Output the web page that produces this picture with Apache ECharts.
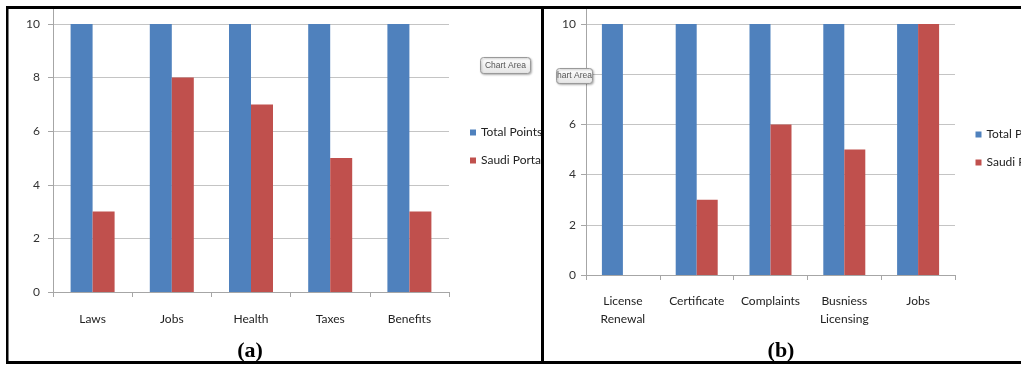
<!DOCTYPE html>
<html>
<head>
<meta charset="utf-8">
<script src="https://cdn.jsdelivr.net/npm/echarts@6/dist/echarts.min.js"></script>
<style>
  html, body { margin: 0; padding: 0; background: #ffffff; }
  #chart { width: 1021px; height: 365px; }
</style>
</head>
<body>
<div id="chart"></div>
<script>
// Series names shared by both panels
const seriesNames = ['Total Points', 'Saudi Portal'];

// Panel (a)
const categoriesA = ['Laws', 'Jobs', 'Health', 'Taxes', 'Benefits'];
const totalPointsA = [10, 10, 10, 10, 10];
const saudiPortalA = [3, 8, 7, 5, 3];

// Panel (b)
const categoriesB = ['License\nRenewal', 'Certificate', 'Complaints', 'Busniess\nLicensing', 'Jobs'];
const totalPointsB = [10, 10, 10, 10, 10];
const saudiPortalB = [0, 3, 6, 5, 10];

// Value axis range
const yMin = 0;
const yMax = 10;
const yStep = 2;

const BLUE = '#4F81BD';
const RED = '#C0504D';
const AXIS_GRAY = '#a6a6a6';
const GRID_GRAY = '#c4c4c4';
const LABEL_FONT = 'Lato, "Open Sans", sans-serif';

const chart = echarts.init(document.getElementById('chart'), null, { renderer: 'canvas' });

function valueAxis(gridIndex, margin) {
  return {
    type: 'value', gridIndex: gridIndex,
    min: yMin, max: yMax, interval: yStep,
    axisLine: { show: true, lineStyle: { color: AXIS_GRAY, width: 1 } },
    axisTick: { show: true, length: 5, lineStyle: { color: AXIS_GRAY } },
    splitLine: { show: true, lineStyle: { color: GRID_GRAY, width: 1 } },
    axisLabel: { margin: margin, fontSize: 12, color: '#333', fontFamily: LABEL_FONT }
  };
}

function categoryAxis(gridIndex, data, margin) {
  return {
    type: 'category', gridIndex: gridIndex, data: data,
    axisLine: { show: true, lineStyle: { color: AXIS_GRAY, width: 1 } },
    axisTick: { show: true, length: 5, lineStyle: { color: AXIS_GRAY } },
    axisLabel: { margin: margin, fontSize: 12, lineHeight: 18, color: '#222', fontFamily: LABEL_FONT, interval: 0 }
  };
}

function legendAt(left, top) {
  return {
    orient: 'vertical', left: left, top: top, padding: 0,
    icon: 'rect', itemWidth: 6, itemHeight: 6, itemGap: 14,
    selectedMode: false,
    data: seriesNames,
    textStyle: { fontSize: 12, lineHeight: 14, color: '#222', fontFamily: LABEL_FONT }
  };
}

function hoverTag(x, y, w, h, label) {
  return {
    type: 'group', x: x, y: y, z: 300,
    children: [
      {
        type: 'rect', z: 300,
        shape: { x: 0, y: 0, width: w, height: h, r: 3 },
        style: {
          fill: new echarts.graphic.LinearGradient(0, 0, 0, 1, [
            { offset: 0, color: '#ffffff' },
            { offset: 1, color: '#e4e4e4' }
          ]),
          stroke: '#9a9a9a', lineWidth: 1,
          shadowBlur: 2, shadowOffsetX: 1, shadowOffsetY: 1, shadowColor: 'rgba(0,0,0,0.25)'
        }
      },
      {
        type: 'text', z: 301,
        x: w / 2, y: h / 2,
        style: {
          text: label, fill: '#555', fontSize: 8.5, fontFamily: '"Liberation Sans", Arial, sans-serif',
          align: 'center', verticalAlign: 'middle'
        }
      }
    ]
  };
}

const option = {
  backgroundColor: '#ffffff',
  animation: false,
  grid: [
    { left: 53, top: 24, width: 396, height: 268 },
    { left: 586, top: 24, width: 369, height: 251 }
  ],
  xAxis: [
    categoryAxis(0, categoriesA, 18),
    categoryAxis(1, categoriesB, 17)
  ],
  yAxis: [
    valueAxis(0, 13),
    valueAxis(1, 10)
  ],
  legend: [
    legendAt(470, 125.5),
    legendAt(975.5, 127.5)
  ],
  series: [
    { name: seriesNames[0], type: 'bar', xAxisIndex: 0, yAxisIndex: 0, data: totalPointsA,
      barWidth: 22, barGap: '0%', itemStyle: { color: BLUE } },
    { name: seriesNames[1], type: 'bar', xAxisIndex: 0, yAxisIndex: 0, data: saudiPortalA,
      barWidth: 22, barGap: '0%', itemStyle: { color: RED } },
    { name: seriesNames[0], type: 'bar', xAxisIndex: 1, yAxisIndex: 1, data: totalPointsB,
      barWidth: 21, barGap: '0%', itemStyle: { color: BLUE } },
    { name: seriesNames[1], type: 'bar', xAxisIndex: 1, yAxisIndex: 1, data: saudiPortalB,
      barWidth: 21, barGap: '0%', itemStyle: { color: RED } }
  ],
  graphic: [
    // value axes continue up to the frame
    { type: 'line', z: 5, shape: { x1: 53.5, y1: 9, x2: 53.5, y2: 24 }, style: { stroke: AXIS_GRAY, lineWidth: 1 } },
    { type: 'line', z: 5, shape: { x1: 586.5, y1: 9, x2: 586.5, y2: 24 }, style: { stroke: AXIS_GRAY, lineWidth: 1 } },

    // hover tags
    hoverTag(480.5, 57.5, 50, 16, 'Chart Area'),
    hoverTag(556.5, 68.5, 36, 15, 'hart Area'),

    // panel captions
    { type: 'text', x: 250, y: 351, z: 100,
      style: { text: '(a)', fill: '#000', fontSize: 22, fontWeight: 'bold', fontFamily: '"Liberation Serif", "Times New Roman", serif',
               align: 'center', verticalAlign: 'middle' } },
    { type: 'text', x: 781, y: 351, z: 100,
      style: { text: '(b)', fill: '#000', fontSize: 22, fontWeight: 'bold', fontFamily: '"Liberation Serif", "Times New Roman", serif',
               align: 'center', verticalAlign: 'middle' } },

    // panel (a) ends at the divider: anything past it is hidden
    { type: 'rect', z: 150, shape: { x: 544, y: 118, width: 12, height: 56 }, style: { fill: '#ffffff' } },

    // frame
    { type: 'rect', z: 400, shape: { x: 6, y: 6, width: 1015, height: 3 }, style: { fill: '#000' } },
    { type: 'rect', z: 400, shape: { x: 6, y: 361, width: 1015, height: 3 }, style: { fill: '#000' } },
    { type: 'rect', z: 400, shape: { x: 6, y: 6, width: 2.5, height: 358 }, style: { fill: '#000' } },
    { type: 'rect', z: 400, shape: { x: 541, y: 6, width: 3, height: 358 }, style: { fill: '#000' } }
  ]
};

chart.setOption(option);
</script>
</body>
</html>
